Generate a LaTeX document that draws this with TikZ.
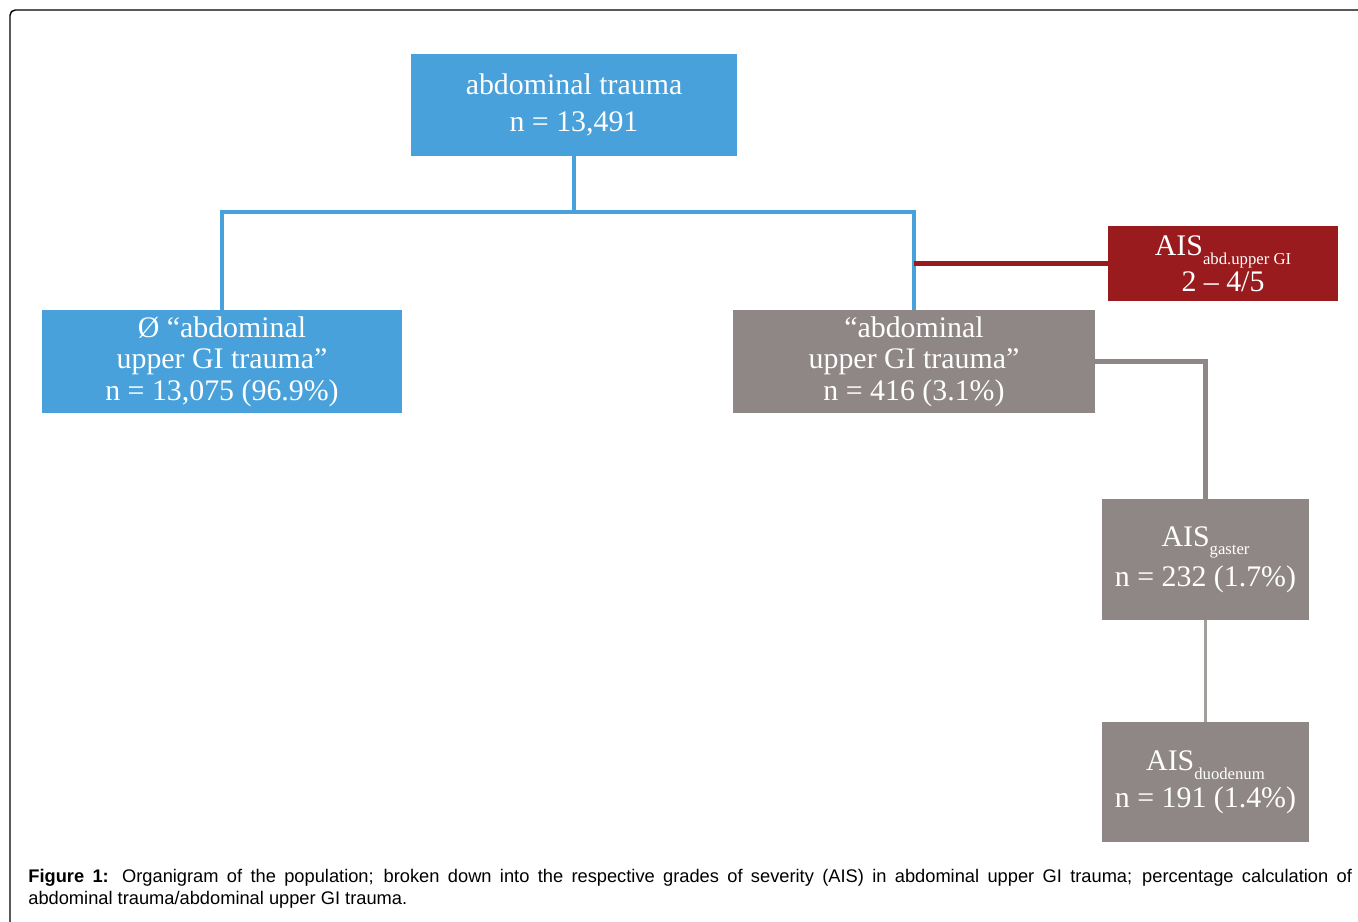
\documentclass[tikz,border=0pt]{standalone}
\usepackage{fontspec}
\setmainfont{Liberation Serif}
\newfontfamily\capfont{Liberation Sans}
\usepackage{tikz}
\usetikzlibrary{positioning}

\definecolor{orgblue}{RGB}{72,161,218}
\definecolor{orggray}{RGB}{142,135,133}
\definecolor{orgred}{RGB}{154,27,30}
\definecolor{thingray}{RGB}{163,159,157}

\newcommand{\aissub}[1]{\raisebox{-5pt}{\fontsize{9.5}{10}\selectfont #1}}

\begin{document}
\begin{tikzpicture}[x=0.02cm,y=-0.02cm,
    box/.style={inner sep=0pt,text=white,align=center,
      font=\fontsize{17}{18}\selectfont},
    bluebox/.style={box,fill=orgblue},
    graybox/.style={box,fill=orggray},
    redbox/.style={box,fill=orgred},
    bluelink/.style={orgblue,line width=2.8pt,line join=miter},
    redlink/.style={orgred,line width=2.3pt},
    graylink/.style={orggray,line width=2.8pt,line join=miter},
    thinlink/.style={thingray,line width=1.7pt}]
  \useasboundingbox (0,0) rectangle (1358,921);
  \begin{scope}
    \clip (0,0) rectangle (1358,921);
    \draw[line width=0.8pt,rounded corners=3pt] (10,10) rectangle (1390,950);
  \end{scope}

  % boxes
  \node[bluebox,minimum width=6.52cm,minimum height=2.04cm] (top) at (574,105)
    {abdominal trauma\\[3pt] n = 13,491};
  \node[bluebox,minimum width=7.2cm,minimum height=2.06cm] (left) at (222,361.5)
    {Ø “abdominal\\ upper GI trauma”\\ n = 13,075 (96.9\%)};
  \node[graybox,minimum width=7.24cm,minimum height=2.06cm] (mid) at (914,361.5)
    {“abdominal\\ upper GI trauma”\\ n = 416 (3.1\%)};
  \node[redbox,minimum width=4.6cm,minimum height=1.5cm] (grade) at (1223,263.5)
    {AIS\aissub{abd.upper GI}\\[1pt] 2 -- 4/5};
  \node[graybox,minimum width=4.14cm,minimum height=2.42cm] (gaster) at (1205.5,559.5)
    {AIS\aissub{gaster}\\[3pt] n = 232 (1.7\%)};
  \node[graybox,minimum width=4.14cm,minimum height=2.4cm] (duod) at (1205.5,782)
    {AIS\aissub{duodenum}\\[3pt] n = 191 (1.4\%)};

  % connectors
  \coordinate (split) at (top.south |- 0,212);
  \coordinate (tap) at (mid.north |- grade.west);
  \draw[bluelink] (top.south) -- (split);
  \draw[bluelink] (left.north) |- (split) -| (mid.north);
  \draw[redlink] (tap) -- (grade.west);
  \draw[graylink] (mid.east) -| (gaster.north);
  \draw[thinlink] (gaster.south) -- (duod.north);

  % caption
  \node[inner sep=0pt,anchor=north west,text width=26.48cm,align=justify,
    font=\capfont\fontsize{10.4}{12.6}\selectfont] (cap) at (28,869)
    {\textbf{Figure 1:} Organigram of the population; broken down into the respective grades of severity (AIS) in abdominal upper GI trauma; percentage calculation of\linebreak abdominal trauma/abdominal upper GI trauma.};
\end{tikzpicture}
\end{document}
